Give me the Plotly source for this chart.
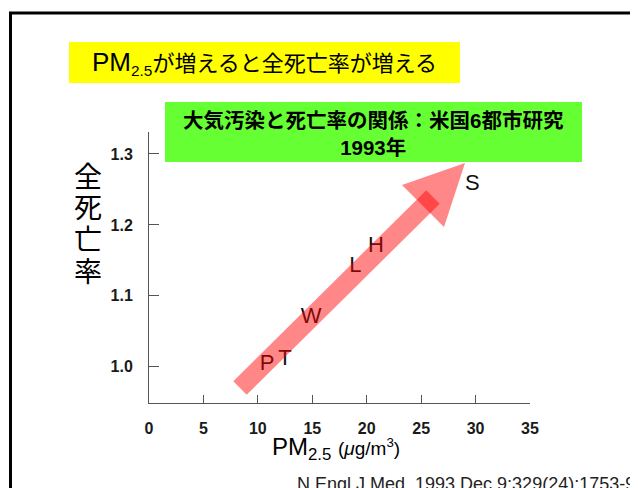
import plotly.graph_objects as go

# ---- data ----
labels = ["P", "T", "W", "L", "H", "S"]
pm25 = [10.85, 12.5, 14.9, 18.95, 20.85, 29.7]
mortality = [1.003, 1.011, 1.070, 1.142, 1.170, 1.257]
x_ticks = [0, 5, 10, 15, 20, 25, 30, 35]
y_ticks = [1.0, 1.1, 1.2, 1.3]
y_ticktext = ["1.0", "1.1", "1.2", "1.3"]

title_text = '<span style="font-size:26px">PM</span><sub>2.5</sub>が増えると全死亡率が増える'
box_text = "大気汚染と死亡率の関係：米国6都市研究<br>1993年"
y_title_chars = ["全", "死", "亡", "率"]
x_title_text = 'PM<sub>2.5</sub> <span style="font-size:19px">(<i>μ</i>g/m<sup>3</sup>)</span>'
citation = "N Engl J Med. 1993 Dec 9;329(24):1753-9"

# ---- layout geometry (pixels, in page coordinates; page body has an 8px margin) ----
OFF = 8
W, H = 638 - OFF, 488 - OFF
ML, MR, MT, MB = 149 - OFF, 108, 132 - OFF, 85
PW = W - ML - MR
PH = H - MT - MB


def px(x):
    return (x - OFF - ML) / PW


def py(y):
    return (H - MB - (y - OFF)) / PH


FONT = "Arial, 'Liberation Sans', 'Noto Sans CJK JP', sans-serif"

fig = go.Figure()
fig.add_trace(go.Scatter(
    x=pm25, y=mortality, text=labels, mode="text",
    textposition="middle center",
    textfont=dict(family=FONT, size=22, color="#111111"),
    hoverinfo="skip", showlegend=False,
))

shapes = []
# outer frame
shapes.append(dict(type="rect", xref="paper", yref="paper",
                   x0=px(10.5), x1=px(660), y0=py(13), y1=py(510),
                   line=dict(color="black", width=3), fillcolor="rgba(0,0,0,0)", layer="above"))
# yellow title box
shapes.append(dict(type="rect", xref="paper", yref="paper",
                   x0=px(69), x1=px(460), y0=py(42), y1=py(83),
                   line=dict(width=0), fillcolor="#ffff00", layer="above"))
# green subtitle box
shapes.append(dict(type="rect", xref="paper", yref="paper",
                   x0=px(165), x1=px(582), y0=py(102), y1=py(162),
                   line=dict(width=0), fillcolor="#66ff33", layer="above"))


def poly(points):
    return "M " + " L ".join(f"{px(a):.5f},{py(b):.5f}" for a, b in points) + " Z"


# arrow (shaft + head, translucent so the overlap is darker)
shaft = [(233.3, 381.2), (246.7, 394.8), (439.7, 203.8), (426.3, 190.2)]
head = [(402, 185), (465, 163), (444, 227)]
for pts in (shaft, head):
    shapes.append(dict(type="path", xref="paper", yref="paper", path=poly(pts),
                       line=dict(width=0), fillcolor="rgba(255,0,0,0.47)", layer="above"))

annotations = []
annotations.append(dict(xref="paper", yref="paper", x=px(264.5), y=py(63),
                        text=title_text, showarrow=False, xanchor="center", yanchor="middle",
                        font=dict(family=FONT, size=22, color="black")))
annotations.append(dict(xref="paper", yref="paper", x=px(373), y=py(134),
                        text=box_text, showarrow=False, xanchor="center", yanchor="middle",
                        font=dict(family=FONT, size=20.5, color="black", weight="bold")))
for i, ch in enumerate(y_title_chars):
    annotations.append(dict(xref="paper", yref="paper", x=px(88), y=py(177 + i * 31.7),
                            text=ch, showarrow=False, xanchor="center", yanchor="middle",
                            font=dict(family=FONT, size=28, color="black")))
annotations.append(dict(xref="paper", yref="paper", x=px(336), y=py(448),
                        text=x_title_text, showarrow=False, xanchor="center", yanchor="middle",
                        font=dict(family=FONT, size=24, color="black")))
annotations.append(dict(xref="paper", yref="paper", x=px(637), y=py(484),
                        text=citation, showarrow=False, xanchor="right", yanchor="middle",
                        font=dict(family=FONT, size=18, color="#222222")))

fig.update_layout(
    width=W, height=H,
    margin=dict(l=ML, r=MR, t=MT, b=MB, pad=0),
    paper_bgcolor="white", plot_bgcolor="white",
    shapes=shapes, annotations=annotations,
    xaxis=dict(range=[0, 35], tickvals=x_ticks, ticks="inside", ticklen=8, tickcolor="#555",
               showline=True, linecolor="#555", linewidth=1, showgrid=False, zeroline=False,
               tickfont=dict(family=FONT, size=16, color="#1a1a1a", weight="bold"),
               ticklabelstandoff=11, fixedrange=True),
    yaxis=dict(range=[0.949, 1.331], tickvals=y_ticks, ticktext=y_ticktext, ticks="inside",
               ticklen=10, tickcolor="#555", showline=True, linecolor="#555", linewidth=1,
               showgrid=False, zeroline=False,
               tickfont=dict(family=FONT, size=16, color="#1a1a1a", weight="bold"),
               ticklabelstandoff=12, fixedrange=True),
)

fig.write_html("out.html")
